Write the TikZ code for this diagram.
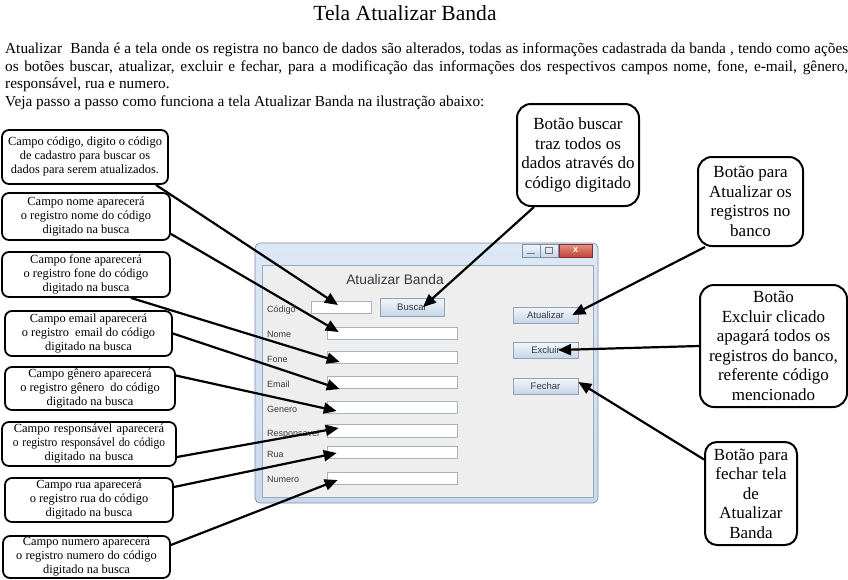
\documentclass[tikz,border=0pt]{standalone}
\usepackage{fontspec}
\setmainfont{Liberation Serif}
\newfontfamily\winfont{Liberation Sans}
\usetikzlibrary{arrows.meta,calc}
\definecolor{winborder}{HTML}{7F8FA3}
\definecolor{wintop}{HTML}{DCE8F6}
\definecolor{winbot}{HTML}{C8D9EE}
\definecolor{panel}{HTML}{EEEEEE}
\definecolor{panelborder}{HTML}{9AA9BC}
\definecolor{fieldborder}{HTML}{A7B3C3}
\definecolor{btnborder}{HTML}{8FA2BA}
\definecolor{btntop}{HTML}{F3F7FC}
\definecolor{btnbot}{HTML}{C6D5E8}
\definecolor{closetop}{HTML}{E59385}
\definecolor{closebot}{HTML}{C2433A}
\definecolor{wintext}{HTML}{3A3A3A}
\begin{document}
\begin{tikzpicture}[x=1pt,y=-1pt,
  lcall/.style={draw, line width=1.8pt, rounded corners=7pt, align=center, inner sep=1pt,
    font=\fontsize{12.4}{14}\selectfont},
  rcall/.style={draw, line width=2pt, rounded corners=14pt, align=center, inner sep=1pt,
    font=\fontsize{17}{19.5}\selectfont},
  field/.style={draw=fieldborder, fill=white, line width=0.6pt, inner sep=0pt},
  wbtn/.style={draw=btnborder, top color=btntop, bottom color=btnbot, line width=0.6pt,
    inner sep=0pt, font=\winfont\fontsize{9.5}{10}\selectfont, text=wintext},
  lbl/.style={anchor=west, inner sep=0pt, font=\winfont\fontsize{9}{10}\selectfont, text=wintext},
  ptext/.style={anchor=base west, inner sep=0pt, font=\fontsize{15.3}{17}\selectfont},
  arr/.style={line width=2.2pt, -{Triangle[length=13pt,width=11pt]}}
]
\useasboundingbox (0,0) rectangle (848,579);

% title and paragraph
\node[anchor=base, inner sep=0pt, font=\fontsize{21.6}{24}\selectfont] (title) at (405,20) {Tela Atualizar Banda};
\node[ptext] (p1) at (5,53) {\makebox[843pt][s]{Atualizar\ \ Banda é a tela onde os registra no banco de dados são alterados, todas as informações cadastrada da banda , tendo como ações}};
\node[ptext] (p2) at (5,71) {\makebox[843pt][s]{os botões buscar, atualizar, excluir e fechar, para a modificação das informações dos respectivos campos nome, fone, e-mail, gênero,}};
\node[ptext] (p3) at (5,88) {responsável, rua e numero.};
\node[ptext] (p4) at (5,106) {Veja passo a passo como funciona a tela Atualizar Banda na ilustração abaixo:};

% window
\draw[rounded corners=5pt, draw=winborder, line width=0.7pt, top color=wintop, bottom color=winbot] (255,243) rectangle (598,503);
\draw[fill=panel, draw=panelborder, line width=0.6pt] (262,265) rectangle (593,497);
\node[draw=winborder, top color=btntop, bottom color=btnbot, minimum width=18pt, minimum height=13pt, inner sep=0pt] (wmin) at (531,250.5) {};
\draw[wintext!70, line width=0.8pt] ($(wmin.center)+(-4,2.5)$) -- ($(wmin.center)+(4,2.5)$);
\node[draw=winborder, top color=btntop, bottom color=btnbot, minimum width=18pt, minimum height=13pt, inner sep=0pt] (wmax) at (549,250.5) {};
\draw[wintext!70, line width=0.7pt] ($(wmax.center)+(-3.5,-3)$) rectangle ($(wmax.center)+(3.5,3)$);
\node[draw=closebot!70!black, top color=closetop, bottom color=closebot, minimum width=33pt, minimum height=13pt, inner sep=0pt,
  font=\winfont\bfseries\fontsize{9}{10}\selectfont, text=white] (wclose) at (575.5,250.5) {x};

\node[inner sep=0pt, font=\winfont\fontsize{13.8}{15}\selectfont, text=wintext] (wtitle) at (395,280) {Atualizar Banda};

\node[lbl] (lcod) at (267,310) {Código};
\node[lbl] (lnome) at (267,334) {Nome};
\node[lbl] (lfone) at (267,359) {Fone};
\node[lbl] (lemail) at (267,384) {Email};
\node[lbl] (lgen) at (267,409) {Genero};
\node[lbl] (lresp) at (267,434) {Responsavel};
\node[lbl] (lrua) at (267,454) {Rua};
\node[lbl] (lnum) at (267,479) {Numero};

\node[field, minimum width=60pt, minimum height=12pt] (fcod) at (341,307) {};
\node[field, minimum width=130pt, minimum height=12pt] (fnome) at (392,333) {};
\node[field, minimum width=130pt, minimum height=12pt] (ffone) at (392,357.5) {};
\node[field, minimum width=130pt, minimum height=12pt] (femail) at (392,382.5) {};
\node[field, minimum width=130pt, minimum height=12pt] (fgen) at (392,407.5) {};
\node[field, minimum width=130pt, minimum height=13pt] (fresp) at (392,430.5) {};
\node[field, minimum width=130pt, minimum height=12pt] (frua) at (392,452.5) {};
\node[field, minimum width=130pt, minimum height=12pt] (fnum) at (392,478) {};

\node[wbtn, minimum width=64pt, minimum height=18pt] (bbusc) at (412,307) {Buscar};
\node[wbtn, minimum width=65pt, minimum height=16pt] (batu) at (545.5,315) {Atualizar};
\node[wbtn, minimum width=65pt, minimum height=16pt] (bexc) at (545.5,350) {Excluir};
\node[wbtn, minimum width=65pt, minimum height=16pt] (bfec) at (545.5,386) {Fechar};

% left callouts
\node[lcall, minimum width=166pt, minimum height=54pt] (ccod) at (85,157) {Campo código, digito o código\\de cadastro para buscar os\\dados para serem atualizados.};
\node[lcall, minimum width=168pt, minimum height=47pt] (cnome) at (86,216.5) {Campo nome aparecerá\\o registro nome do código\\digitado na busca};
\node[lcall, minimum width=168pt, minimum height=45pt] (cfone) at (86,274.5) {Campo fone aparecerá\\o registro fone do código\\digitado na busca};
\node[lcall, minimum width=167pt, minimum height=45pt] (cemail) at (88.5,333.5) {Campo email aparecerá\\o registro\ \ email do código\\digitado na busca};
\node[lcall, minimum width=170pt, minimum height=43pt] (cgen) at (90,388.5) {Campo gênero aparecerá\\o registro gênero\ \ do código\\digitado na busca};
\node[lcall, minimum width=174pt, minimum height=44pt, text width=172pt, inner sep=0pt] (cresp) at (89,444) {Campo responsável aparecerá\\\scalebox{0.92}[1]{o registro responsável do código}\\digitado na busca};
\node[lcall, minimum width=168pt, minimum height=44pt] (crua) at (89,500) {Campo rua aparecerá\\o registro rua do código\\digitado na busca};
\node[lcall, minimum width=167pt, minimum height=42pt] (cnum) at (86.5,557) {Campo numero aparecerá\\o registro numero do código\\digitado na busca};

% right callouts
\node[rcall, minimum width=122pt, minimum height=102pt] (cbusc) at (578,155) {Botão buscar\\traz todos os\\dados através do\\código digitado};
\node[rcall, minimum width=105pt, minimum height=89pt] (catu) at (750.5,201.5) {Botão para\\Atualizar os\\registros no\\banco};
\node[rcall, minimum width=147pt, minimum height=122pt] (cexc) at (773.5,346) {Botão\\Excluir clicado\\apagará todos os\\registros do banco,\\referente código\\mencionado};
\node[rcall, minimum width=92pt, minimum height=103pt, rounded corners=12pt] (cfec) at (751,493.5) {Botão para\\fechar tela\\de\\Atualizar\\Banda};

% arrows
\draw[arr] ($(ccod.south east)+(-13,0)$) -- ($(fcod.center)+(-3,-2)$);
\draw[arr] ($(cnome.south east)+(0,-7)$) -- ($(fnome.west)+(12,-1)$);
\draw[arr] ($(cfone.south east)+(-40,0)$) -- ($(ffone.west)+(13,4.5)$);
\draw[arr] (cemail.east) -- ($(femail.west)+(13,6.5)$);
\draw[arr] ($(cgen.east)+(0,-13)$) -- ($(fgen.west)+(10,3.5)$);
\draw[arr] ($(cresp.east)+(0,13)$) -- ($(fresp.west)+(12,-2.5)$);
\draw[arr] ($(crua.east)+(0,-13)$) -- ($(frua.west)+(10,0.5)$);
\draw[arr] ($(cnum.east)+(0,-12)$) -- ($(fnum.west)+(11,2)$);
\draw[arr] ($(cbusc.south west)+(18,0)$) -- ($(bbusc.center)+(11,0)$);
\draw[arr] ($(catu.south west)+(8,0)$) -- ($(batu.east)+(-6,0)$);
\draw[arr] (cexc.west) -- ($(bexc.center)+(12.5,0)$);
\draw[arr] ($(cfec.west)+(0,-34)$) -- ($(bfec.east)+(0,-4)$);
\end{tikzpicture}
\end{document}
